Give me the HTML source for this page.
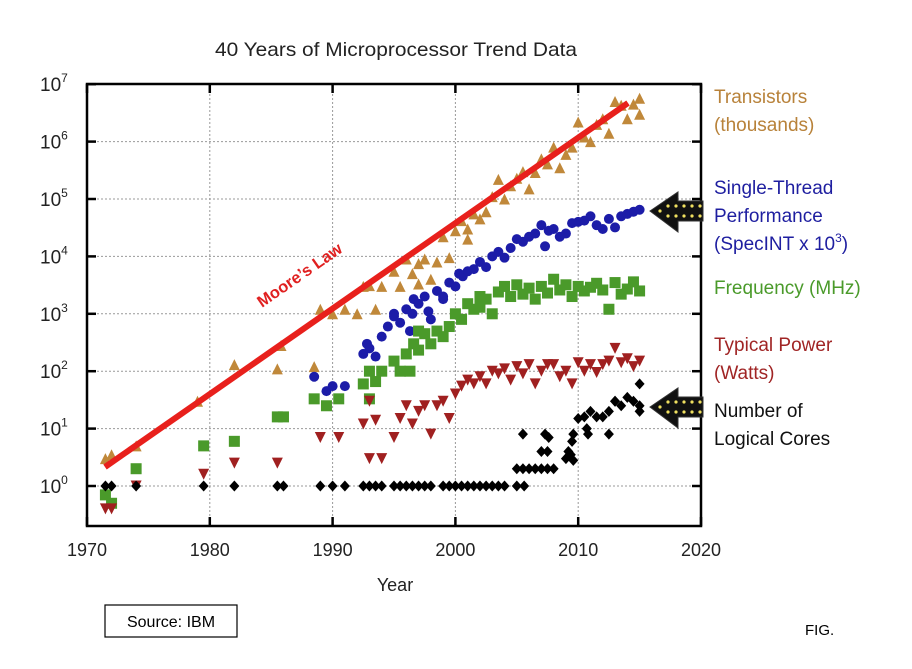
<!DOCTYPE html>
<html><head><meta charset="utf-8"><style>
body{margin:0;background:#fff;}
svg{display:block;font-family:"Liberation Sans",sans-serif;}
</style></head><body>
<svg id="s" width="912" height="669" viewBox="0 0 912 669" xmlns="http://www.w3.org/2000/svg">
<rect width="912" height="669" fill="#fff"/>
<text x="396" y="56" font-size="19.5" text-anchor="middle" fill="#222" textLength="362" lengthAdjust="spacingAndGlyphs">40 Years of Microprocessor Trend Data</text>
<g id="grid" stroke="#999" stroke-width="1" stroke-dasharray="2,2"></g>
<g id="pts"></g>
<line x1="105" y1="467" x2="628" y2="103" stroke="#e8201c" stroke-width="6"/>
<text x="0" y="0" font-size="16.5" font-weight="bold" fill="#e02020" transform="translate(262,308) rotate(-34.8)">Moore’s Law</text>
<rect x="87" y="84" width="614" height="442" fill="none" stroke="#000" stroke-width="2.5"/>
<g id="ticks" stroke="#000" stroke-width="2.5"></g>
<g id="lbl" font-size="18" fill="#222"></g>
<text x="395" y="591" font-size="18" text-anchor="middle" fill="#222">Year</text>
<g font-size="19">
<text x="714" y="103" fill="#b8823a">Transistors</text>
<text x="714" y="131" fill="#b8823a">(thousands)</text>
<text x="714" y="194" fill="#1e1ea0">Single-Thread</text>
<text x="714" y="222" fill="#1e1ea0">Performance</text>
<text x="714" y="250" fill="#1e1ea0">(SpecINT x 10<tspan font-size="12" dy="-8">3</tspan><tspan dy="8">)</tspan></text>
<text x="714" y="294" fill="#4a9a2a">Frequency (MHz)</text>
<text x="714" y="351" fill="#a02525">Typical Power</text>
<text x="714" y="379" fill="#a02525">(Watts)</text>
<text x="714" y="417" fill="#111">Number of</text>
<text x="714" y="445" fill="#111">Logical Cores</text>
</g>
<g id="arrows"></g>
<rect x="105" y="605" width="132" height="32" fill="#fff" stroke="#000" stroke-width="1.2"/>
<text x="171" y="627" font-size="16" text-anchor="middle" fill="#000">Source: IBM</text>
<text x="805" y="635" font-size="15" fill="#000">FIG.</text>
</svg>
<script>
const NS="http://www.w3.org/2000/svg";
const X=y=>87+(y-1970)*12.28, Y=l=>486-l*57.4;
function el(p,t,a){const e=document.createElementNS(NS,t);for(const k in a)e.setAttribute(k,a[k]);document.getElementById(p).appendChild(e);return e;}
for(let y=1980;y<=2010;y+=10)el("grid","line",{x1:X(y),y1:86,x2:X(y),y2:524});
for(let l=0;l<=6;l++)el("grid","line",{x1:89,y1:Y(l),x2:699,y2:Y(l)});
for(let y=1970;y<=2020;y+=10){el("ticks","line",{x1:X(y),y1:526,x2:X(y),y2:517});el("ticks","line",{x1:X(y),y1:84,x2:X(y),y2:93});
 const t=el("lbl","text",{x:X(y),y:556,"text-anchor":"middle"});t.textContent=y;}
for(let l=0;l<=7;l++){el("ticks","line",{x1:87,y1:Y(l),x2:96,y2:Y(l)});el("ticks","line",{x1:701,y1:Y(l),x2:692,y2:Y(l)});
 const t=el("lbl","text",{x:40,y:Y(l)+7,"font-size":"19"});t.innerHTML=`10<tspan font-size="12" dy="-9">${l}</tspan>`;}
const L=Math.log10;
function tri(x,y,c,down){const s=5.5;el("pts","polygon",{points:down?`${x-s},${y-s} ${x+s},${y-s} ${x},${y+s}`:`${x-s},${y+s} ${x+s},${y+s} ${x},${y-s}`,fill:c});}
const T=[[1971.5,3],[1972,3.5],[1974,5],[1979,30],[1982,130],[1985.5,110],[1985.8,280],[1989,1200],[1990,1000],[1991,1200],[1992.5,3000],[1993,3100],[1993.5,1200],[1994,3000],[1995,5500],[1995.5,3000],[1996,9000],[1996.5,5000],[1997,7500],[1997.5,9000],[1998,4000],[1998.5,8000],[1999,22000],[1999.5,9500],[2000,28000],[2000.5,42000],[2001,30000],[2001.5,55000],[2002,45000],[2002.5,60000],[2003,110000],[2003.5,220000],[2004,100000],[2004.5,170000],[2005,230000],[2005.5,300000],[2006,150000],[2006.5,290000],[2007,500000],[2007.5,410000],[2008,800000],[2008.5,350000],[2009,600000],[2009.5,800000],[2010,2200000],[2010.5,1200000],[2011,1000000],[2011.5,2000000],[2012,2500000],[2012.5,1400000],[2013,5000000],[2013.5,4300000],[2014,2500000],[2014.5,4500000],[2015,5700000],[2015,3000000],[1988.5,120],[1992,1000],[1997,3300],[2001,20000]];
T.forEach(p=>tri(X(p[0]),Y(L(p[1])),"#c0883a"));
const S=[[1988.5,80],[1989.5,45],[1990,55],[1991,55],[1992.5,200],[1992.8,300],[1993,250],[1993.5,180],[1994,400],[1994.5,600],[1995,1000],[1995.5,700],[1996,1200],[1996.3,500],[1996.6,1800],[1997,1500],[1997.5,2000],[1997.8,1100],[1998,800],[1998.5,2500],[1999,1800],[1999.5,3500],[2000,3000],[2000.3,5000],[2000.6,4500],[2001,5500],[2001.5,6000],[2002,8000],[2002.5,6500],[2003,10000],[2003.5,12000],[2004,9500],[2004.5,14000],[2005,20000],[2005.5,18000],[2006,22000],[2006.5,25000],[2007,35000],[2007.3,15000],[2007.6,28000],[2008,30000],[2008.5,22000],[2009,25000],[2009.5,38000],[2010,40000],[2010.5,42000],[2011,50000],[2011.5,35000],[2012,30000],[2012.5,45000],[2013,32000],[2013.5,50000],[2014,55000],[2014.5,60000],[2015,65000],[1995,900],[1996.5,1000],[1999,2000]];
S.forEach(p=>el("pts","circle",{cx:X(p[0]),cy:Y(L(p[1])),r:5,fill:"#1c1ca8"}));
const F=[[1971.5,0.7],[1972,0.5],[1974,2],[1979.5,5],[1982,6],[1985.5,16],[1986,16],[1988.5,33],[1989.5,25],[1990.5,33],[1992.5,60],[1993,100],[1993.5,66],[1994,100],[1995,150],[1995.5,100],[1996,200],[1996.3,100],[1996.6,300],[1997,233],[1997.5,450],[1998,300],[1998.5,500],[1999,400],[1999.5,600],[2000,1000],[2000.5,800],[2001,1500],[2001.5,1200],[2002,2000],[2002.5,1800],[2003,1000],[2003.5,2400],[2004,3000],[2004.5,2000],[2005,3200],[2005.5,2200],[2006,2800],[2006.5,1800],[2007,3000],[2007.5,2300],[2008,4000],[2008.5,2600],[2009,3200],[2009.5,2000],[2010,3000],[2010.5,2500],[2011,2900],[2011.5,3400],[2012,2600],[2012.5,1200],[2013,3500],[2013.5,2200],[2014,2700],[2014.5,3600],[2015,2500],[1993,33],[1997,500],[2002,1300]];
F.forEach(p=>{const x=X(p[0]),y=Y(L(p[1]));el("pts","rect",{x:x-5.5,y:y-5.5,width:11,height:11,fill:"#4a9a2a"});});
const P=[[1971.5,0.4],[1972,0.4],[1974,1],[1979.5,1.6],[1982,2.5],[1985.5,2.5],[1989,7],[1990.5,7],[1992.5,12],[1993,30],[1993.5,14],[1994,3],[1995,7],[1995.5,15],[1996,25],[1996.5,12],[1997,20],[1997.5,25],[1998,8],[1998.5,25],[1999,30],[1999.5,15],[2000,40],[2000.5,55],[2001,70],[2001.5,60],[2002,80],[2002.5,60],[2003,100],[2003.5,90],[2004,110],[2004.5,70],[2005,120],[2005.5,90],[2006,130],[2006.5,60],[2007,100],[2007.5,130],[2008,130],[2008.5,80],[2009,100],[2009.5,60],[2010,140],[2010.5,100],[2011,130],[2011.5,95],[2012,130],[2012.5,150],[2013,250],[2013.5,140],[2014,165],[2014.5,120],[2015,150],[1993,3]];
P.forEach(p=>tri(X(p[0]),Y(L(p[1])),"#a02020",true));
const C=[];for(const y of [1971.5,1972,1974,1979.5,1982,1985.5,1986,1989,1990,1991,1992.5,1993,1993.5,1994,1995,1995.5,1996,1996.5,1997,1997.5,1998,1999,1999.5,2000,2000.5,2001,2001.5,2002,2002.5,2003,2003.5,2004,2005,2005.6])C.push([y,1]);
[[2005,2],[2005.5,2],[2006,2],[2006.5,2],[2007,2],[2007.5,2],[2008,2],[2007,4],[2007.5,4],[2007.3,8],[2007.6,7],[2005.5,8],[2009,3],[2009.2,4],[2009.4,3.5],[2009.6,2.8],[2009.5,6],[2009.6,8],[2010,15],[2010.5,16],[2010.7,10],[2011,20],[2011.5,16],[2012,16],[2012.5,20],[2013,30],[2013.5,25],[2014,35],[2014.5,30],[2015,60],[2015,20],[2015,25],[2012.5,8],[2013,30],[2010.8,8]].forEach(p=>C.push(p));
C.forEach(p=>{const x=X(p[0]),y=Y(L(p[1]));el("pts","polygon",{points:`${x},${y-5.5} ${x+5},${y} ${x},${y+5.5} ${x-5},${y}`,fill:"#000"});});
function arrow(cy){el("arrows","polygon",{points:`650,${cy} 678,${cy-19} 678,${cy-10} 703,${cy-10} 703,${cy+10} 678,${cy+10} 678,${cy+21}`,fill:"#111",stroke:"#333","stroke-width":1});
 for(let i=0;i<5;i++){el("arrows","circle",{cx:668+i*8,cy:cy-5,r:1.6,fill:"#f0e060"});el("arrows","circle",{cx:668+i*8,cy:cy+5,r:1.6,fill:"#f0e060"});}
 el("arrows","circle",{cx:660,cy:cy,r:1.6,fill:"#f0e060"});}
arrow(211);arrow(407);
</script>
</body></html>
